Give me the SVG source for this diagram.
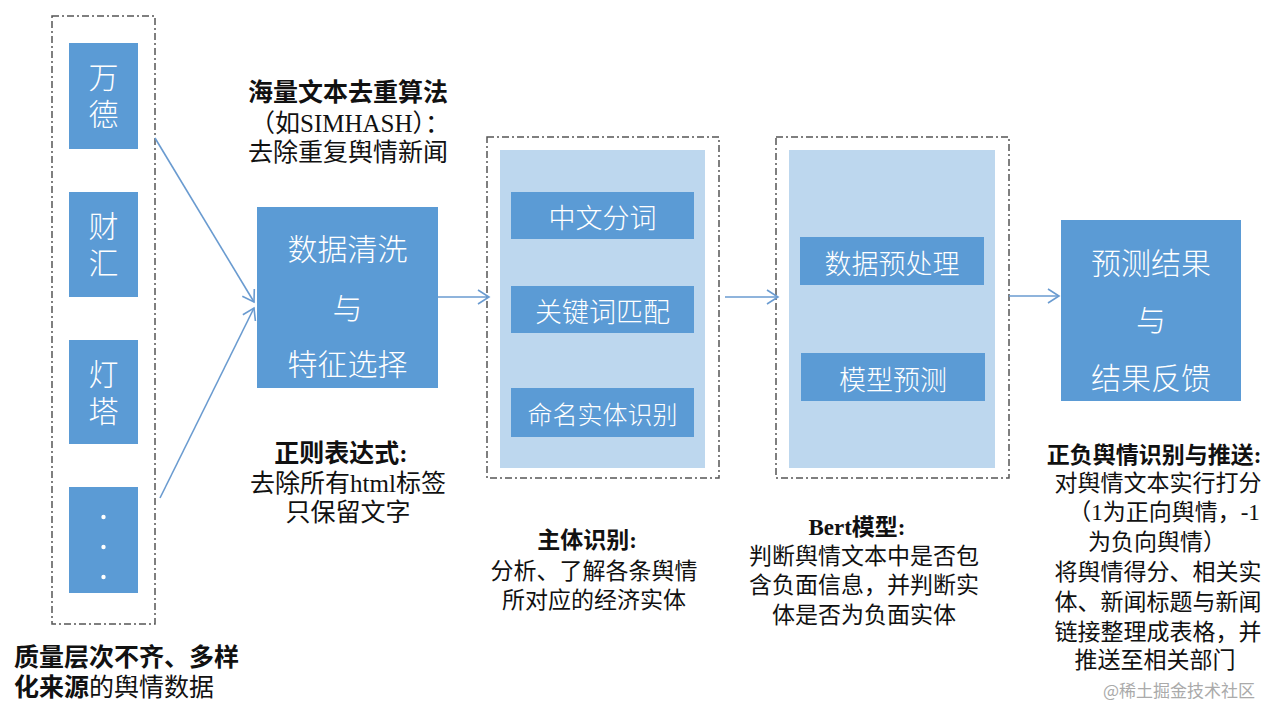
<svg xmlns="http://www.w3.org/2000/svg" width="1280" height="720" viewBox="0 0 1280 720">
<style>
.frame{fill:none;stroke:#555;stroke-width:1.5;stroke-dasharray:7 3 2 3}
.dark{fill:#5B9BD5}
.light{fill:#BDD7EE}
.bt{fill:#fff;font-family:"Noto Sans CJK SC",sans-serif;font-weight:300;text-anchor:middle;dominant-baseline:central}
.vt{fill:#fff;font-family:"Noto Sans CJK SC",sans-serif;font-weight:300;writing-mode:vertical-rl;font-size:30px;letter-spacing:7px}
.ann{fill:#111;font-family:"Liberation Serif","Noto Sans CJK SC",serif;text-anchor:middle;dominant-baseline:central}
.b{font-weight:bold}
.conn{stroke:#6A9BD0;stroke-width:1.6;fill:none;marker-end:url(#ah)}
</style>
<defs>
<marker id="ah" markerUnits="userSpaceOnUse" markerWidth="16" markerHeight="16" refX="13" refY="8" orient="auto">
<path d="M2,1 L13,8 L2,15" fill="none" stroke="#6A9BD0" stroke-width="1.6"/>
</marker>
</defs>
<rect width="1280" height="720" fill="#fff"/>

<g id="sources">
<rect class="frame" x="52" y="16" width="103" height="608"/>
<g id="src-wande"><rect class="dark" x="69" y="43" width="69" height="106"/>
<text class="vt" x="103.5" y="62">万德</text></g>
<g id="src-caihui"><rect class="dark" x="69" y="192" width="69" height="105"/>
<text class="vt" x="103.5" y="211">财汇</text></g>
<g id="src-dengta"><rect class="dark" x="69" y="340" width="69" height="104"/>
<text class="vt" x="103.5" y="359">灯塔</text></g>
<g id="src-more"><rect class="dark" x="69" y="487" width="69" height="106"/>
<circle cx="103.5" cy="517" r="2.2" fill="#fff"/><circle cx="103.5" cy="547" r="2.2" fill="#fff"/><circle cx="103.5" cy="577" r="2.2" fill="#fff"/></g>
</g>

<g id="clean">
<rect class="dark" x="257" y="207" width="181" height="181"/>
<text class="bt" x="347.5" y="247" font-size="30">数据清洗</text>
<text class="bt" x="347.5" y="306" font-size="30">与</text>
<text class="bt" x="347.5" y="362" font-size="30">特征选择</text>
</g>

<g id="entity">
<rect class="frame" x="487" y="137" width="232" height="341"/>
<rect class="light" x="500" y="150" width="205" height="318"/>
<rect class="dark" x="511" y="192" width="183" height="47"/>
<text class="bt" x="602.5" y="216" font-size="27">中文分词</text>
<rect class="dark" x="511" y="286" width="183" height="47"/>
<text class="bt" x="602.5" y="310" font-size="27">关键词匹配</text>
<rect class="dark" x="511" y="388" width="183" height="49"/>
<text class="bt" x="602.5" y="413" font-size="25" font-weight="400">命名实体识别</text>
</g>

<g id="bert">
<rect class="frame" x="776" y="137" width="233" height="341"/>
<rect class="light" x="789" y="150" width="206" height="318"/>
<rect class="dark" x="800" y="237" width="184" height="48"/>
<text class="bt" x="892" y="262" font-size="27">数据预处理</text>
<rect class="dark" x="801" y="353" width="184" height="48"/>
<text class="bt" x="893" y="378" font-size="27">模型预测</text>
</g>

<g id="result">
<rect class="dark" x="1061" y="220" width="180" height="181"/>
<text class="bt" x="1151" y="261" font-size="30">预测结果</text>
<text class="bt" x="1151" y="318" font-size="30">与</text>
<text class="bt" x="1151" y="376" font-size="30">结果反馈</text>
</g>

<g id="connectors">
<line class="conn" x1="155" y1="138" x2="254" y2="302"/>
<line class="conn" x1="160" y1="498" x2="254" y2="308"/>
<line class="conn" x1="438" y1="297" x2="489" y2="297"/>
<line class="conn" x1="725" y1="297" x2="778" y2="297"/>
<line class="conn" x1="1009" y1="296" x2="1059" y2="296"/>
</g>

<g id="annotations" font-size="23">
<text class="ann b" x="348" y="92" font-size="25">海量文本去重算法</text>
<text class="ann" x="350" y="123" font-size="25">（如SIMHASH）：</text>
<text class="ann" x="348" y="152" font-size="25">去除重复舆情新闻</text>

<text class="ann b" x="341" y="453" font-size="25">正则表达式:</text>
<text class="ann" x="348" y="483" font-size="25">去除所有html标签</text>
<text class="ann" x="348" y="512" font-size="25">只保留文字</text>

<text class="ann" x="14" y="657" font-size="25" style="text-anchor:start" font-weight="bold">质量层次不齐、多样</text>
<text class="ann" x="14" y="687" font-size="25" style="text-anchor:start"><tspan font-weight="bold">化来源</tspan>的舆情数据</text>

<text class="ann b" x="587" y="540">主体识别:</text>
<text class="ann" x="594" y="571">分析、了解各条舆情</text>
<text class="ann" x="594" y="600">所对应的经济实体</text>

<text class="ann b" x="857" y="527">Bert模型:</text>
<text class="ann" x="864" y="556">判断舆情文本中是否包</text>
<text class="ann" x="864" y="585">含负面信息，并判断实</text>
<text class="ann" x="864" y="615">体是否为负面实体</text>

<text class="ann b" x="1154" y="455">正负舆情识别与推送:</text>
<text class="ann" x="1158" y="483">对舆情文本实行打分</text>
<text class="ann" x="1164" y="512">（1为正向舆情，-1</text>
<text class="ann" x="1157" y="542">为负向舆情）</text>
<text class="ann" x="1158" y="572">将舆情得分、相关实</text>
<text class="ann" x="1158" y="602">体、新闻标题与新闻</text>
<text class="ann" x="1158" y="632">链接整理成表格，并</text>
<text class="ann" x="1155" y="660">推送至相关部门</text>
<text x="1179" y="689" fill="#aaa" font-family="Noto Sans CJK SC,sans-serif" font-size="17" text-anchor="middle" dominant-baseline="central">@稀土掘金技术社区</text>
</g>
</svg>
